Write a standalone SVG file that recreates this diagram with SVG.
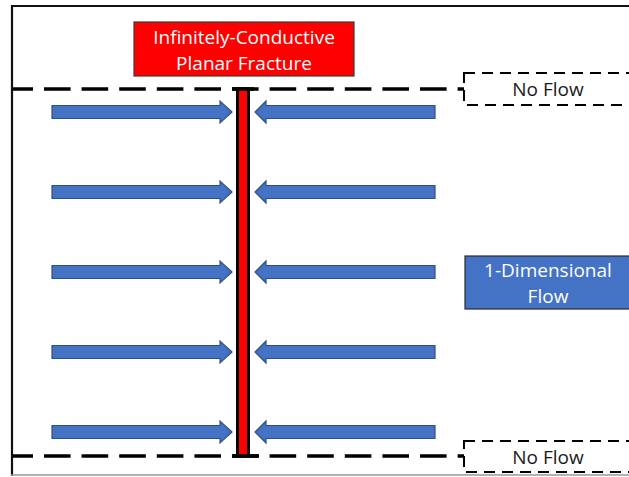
<svg xmlns="http://www.w3.org/2000/svg" width="629" height="477" viewBox="0 0 629 477">
  <style>
    .lbl { font-family: "Open Sans", "Noto Sans", "Liberation Sans", sans-serif; font-size: 19px; text-anchor: middle; }
    .white { fill: #ffffff; }
    .dark { fill: #1a1a1a; }
    .arrow { fill: #4472C4; stroke: #2F4F7F; stroke-width: 1.2; stroke-linejoin: miter; }
    .bound { fill: none; stroke: #000; stroke-width: 3.5; stroke-dasharray: 26.6 11; stroke-dashoffset: 5.6; }
    .noflow { fill: #ffffff; stroke: #000; stroke-width: 2; stroke-dasharray: 11 7; }
  </style>

  <rect width="629" height="477" fill="#ffffff"/>

  <!-- outer frame -->
  <g id="frame">
    <line x1="11" y1="6" x2="629" y2="6" stroke="#111" stroke-width="2"/>
    <line x1="12" y1="5" x2="12" y2="476" stroke="#111" stroke-width="2.2"/>
    <line x1="11" y1="475" x2="629" y2="475" stroke="#9a9a9a" stroke-width="1.5"/>
  </g>

  <!-- no-flow boundaries -->
  <g id="boundaries">
    <line class="bound" x1="12" y1="89" x2="464" y2="89"/>
    <line class="bound" x1="12" y1="456" x2="464" y2="456"/>
  </g>

  <!-- flow arrows toward the fracture -->
  <g id="connectors">
    <polygon class="arrow" points="52,105.5 220,105.5 220,101 232,112 220,123 220,118.5 52,118.5"/>
    <polygon class="arrow" points="435,105.5 266,105.5 266,101 255,112 266,123 266,118.5 435,118.5"/>
    <polygon class="arrow" points="52,185.5 220,185.5 220,181 232,192 220,203 220,198.5 52,198.5"/>
    <polygon class="arrow" points="435,185.5 266,185.5 266,181 255,192 266,203 266,198.5 435,198.5"/>
    <polygon class="arrow" points="52,265.5 220,265.5 220,261 232,272 220,283 220,278.5 52,278.5"/>
    <polygon class="arrow" points="435,265.5 266,265.5 266,261 255,272 266,283 266,278.5 435,278.5"/>
    <polygon class="arrow" points="52,345.5 220,345.5 220,341 232,352 220,363 220,358.5 52,358.5"/>
    <polygon class="arrow" points="435,345.5 266,345.5 266,341 255,352 266,363 266,358.5 435,358.5"/>
    <polygon class="arrow" points="52,425.5 220,425.5 220,421 232,432 220,443 220,438.5 52,438.5"/>
    <polygon class="arrow" points="435,425.5 266,425.5 266,421 255,432 266,443 266,438.5 435,438.5"/>
  </g>

  <!-- planar fracture -->
  <g id="fracture">
    <rect x="237.5" y="89" width="11" height="367" fill="#ff0000" stroke="#000" stroke-width="3"/>
    <line x1="232" y1="89" x2="254" y2="89" stroke="#000" stroke-width="3.5"/>
    <line x1="232" y1="456" x2="259" y2="456" stroke="#000" stroke-width="3.5"/>
  </g>

  <g id="fracture-label">
    <rect x="134" y="22" width="220" height="54" fill="#ff0000" stroke="#3a3a3a" stroke-width="1.2"/>
    <text class="lbl white" x="244" y="44">Infinitely-Conductive</text>
    <text class="lbl white" x="244" y="70">Planar Fracture</text>
  </g>

  <g id="noflow-top">
    <rect class="noflow" x="464" y="73" width="180" height="32"/>
    <text class="lbl dark" x="548" y="96">No Flow</text>
  </g>

  <g id="noflow-bottom">
    <rect class="noflow" x="464" y="441" width="180" height="31"/>
    <text class="lbl dark" x="548" y="464">No Flow</text>
  </g>

  <g id="flow-label">
    <rect x="465" y="256" width="180" height="53" fill="#4472C4" stroke="#2b2b2b" stroke-width="1.2"/>
    <text class="lbl white" x="548" y="277">1-Dimensional</text>
    <text class="lbl white" x="548" y="303">Flow</text>
  </g>
</svg>
